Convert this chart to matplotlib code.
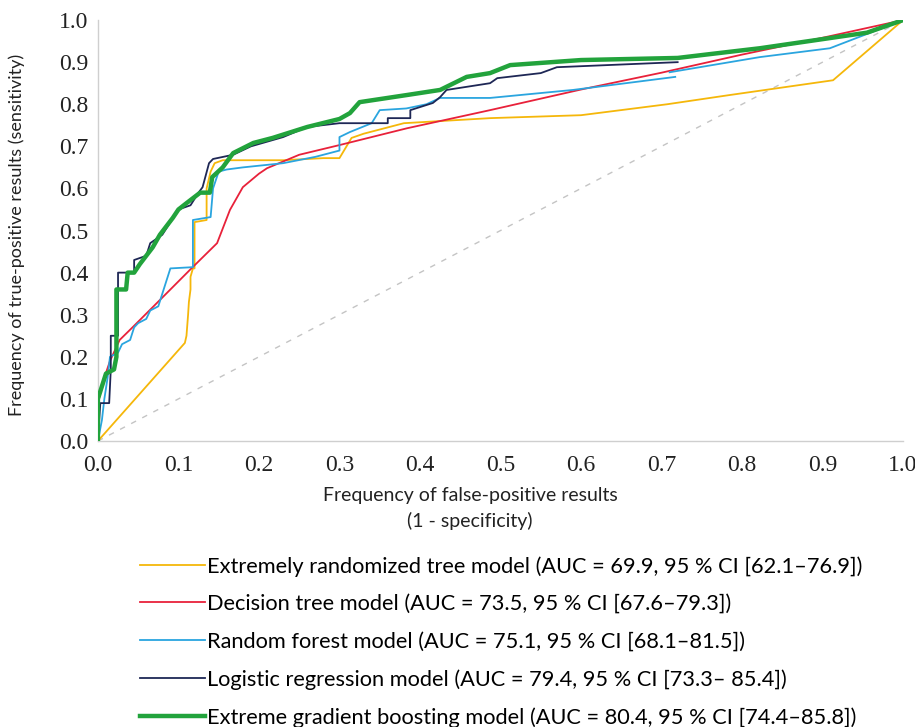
import numpy as np
import matplotlib
matplotlib.use('Agg')
import matplotlib.pyplot as plt

# ROC points (fpr, tpr)
et_fpr = [0, 0.108, 0.11, 0.112, 0.113, 0.115, 0.115, 0.118, 0.12, 0.12, 0.135, 0.135, 0.14, 0.145,
          0.155, 0.23, 0.28, 0.30, 0.315, 0.33, 0.36, 0.38, 0.487, 0.60, 0.707, 0.785, 0.913, 1.0]
et_tpr = [0, 0.233, 0.25, 0.30, 0.33, 0.36, 0.39, 0.41, 0.41, 0.52, 0.525, 0.60, 0.64, 0.66,
          0.667, 0.667, 0.672, 0.672, 0.72, 0.73, 0.745, 0.755, 0.767, 0.774, 0.80, 0.822, 0.857, 1.0]

dt_fpr = [0, 0, 0.007, 0.015, 0.027, 0.043, 0.077, 0.114, 0.148, 0.164, 0.18, 0.20, 0.21, 0.25,
          0.30, 0.384, 0.487, 0.60, 0.70, 0.80, 0.90, 1.0]
dt_tpr = [0, 0.09, 0.145, 0.19, 0.24, 0.27, 0.335, 0.406, 0.47, 0.549, 0.603, 0.635, 0.648, 0.68,
          0.703, 0.743, 0.786, 0.835, 0.875, 0.918, 0.958, 1.0]

# random forest line has a break where the published figure was stitched
rf_fpr = [0, 0.005, 0.008, 0.012, 0.015, 0.025, 0.03, 0.04, 0.045, 0.05, 0.06, 0.065, 0.075, 0.08,
          0.085, 0.09, 0.118, 0.118, 0.14, 0.143, 0.15, 0.16, 0.18, 0.23, 0.27, 0.30, 0.30, 0.313,
          0.34, 0.35, 0.383, 0.408, 0.425, 0.487, 0.59, 0.717, np.nan,
          0.71, 0.822, 0.909, 1.0]
rf_tpr = [0, 0.05, 0.10, 0.15, 0.20, 0.21, 0.23, 0.24, 0.27, 0.28, 0.29, 0.31, 0.32, 0.35,
          0.38, 0.41, 0.413, 0.525, 0.532, 0.60, 0.64, 0.645, 0.65, 0.66, 0.675, 0.69, 0.722, 0.734,
          0.755, 0.786, 0.79, 0.80, 0.815, 0.815, 0.834, 0.865, np.nan,
          0.876, 0.912, 0.933, 1.0]

lr_fpr = [0, 0.003, 0.014, 0.016, 0.016, 0.025, 0.025, 0.045, 0.045, 0.06, 0.065, 0.08, 0.09, 0.10,
          0.115, 0.125, 0.13, 0.138, 0.143, 0.168, 0.19, 0.23, 0.26, 0.30, 0.36, 0.36, 0.388, 0.388,
          0.416, 0.425, 0.433, 0.487, 0.496, 0.55, 0.57, 0.72]
lr_tpr = [0, 0.09, 0.09, 0.17, 0.25, 0.25, 0.40, 0.40, 0.43, 0.44, 0.47, 0.49, 0.52, 0.55,
          0.56, 0.59, 0.603, 0.66, 0.67, 0.68, 0.70, 0.722, 0.746, 0.755, 0.755, 0.767, 0.767, 0.786,
          0.803, 0.817, 0.834, 0.85, 0.862, 0.874, 0.888, 0.90]

xgb_fpr = [0, 0, 0.005, 0.01, 0.02, 0.023, 0.023, 0.035, 0.037, 0.045, 0.052, 0.06, 0.068, 0.077,
           0.085, 0.093, 0.10, 0.11, 0.127, 0.139, 0.142, 0.155, 0.168, 0.193, 0.217, 0.26, 0.30,
           0.313, 0.325, 0.384, 0.425, 0.458, 0.487, 0.512, 0.60, 0.72, 0.764, 0.822, 0.955, 1.0]
xgb_tpr = [0, 0.10, 0.13, 0.16, 0.17, 0.20, 0.36, 0.36, 0.40, 0.40, 0.42, 0.44, 0.46, 0.49,
           0.51, 0.53, 0.55, 0.565, 0.59, 0.59, 0.627, 0.65, 0.684, 0.708, 0.72, 0.746, 0.765,
           0.779, 0.805, 0.822, 0.834, 0.865, 0.874, 0.893, 0.905, 0.91, 0.92, 0.933, 0.97, 1.0]

labels = [
    'Extremely randomized tree model (AUC = 69.9, 95 % CI [62.1\u201376.9])',
    'Decision tree model (AUC = 73.5, 95 % CI [67.6\u201379.3])',
    'Random forest model (AUC = 75.1, 95 % CI [68.1\u201381.5])',
    'Logistic regression model (AUC = 79.4, 95 % CI [73.3\u2013 85.4])',
    'Extreme gradient boosting model (AUC = 80.4, 95 % CI [74.4\u201385.8])',
]
ticks = [0.0, 0.1, 0.2, 0.3, 0.4, 0.5, 0.6, 0.7, 0.8, 0.9, 1.0]

fig = plt.figure(figsize=(9.15, 7.27), dpi=100)
ax = fig.add_axes([0.107, 0.3934, 0.880, 0.579])

ax.plot([0, 1], [0, 1], color='#c4c4c4', lw=1, dashes=(4, 5), zorder=1)
l1, = ax.plot(et_fpr, et_tpr, color='#f5b70a', lw=1.3, zorder=2)
l2, = ax.plot(dt_fpr, dt_tpr, color='#e8213a', lw=1.3, zorder=3)
l3, = ax.plot(rf_fpr, rf_tpr, color='#2aa5df', lw=1.3, zorder=4)
l4, = ax.plot(lr_fpr, lr_tpr, color='#1e2755', lw=1.3, zorder=5)
l5, = ax.plot(xgb_fpr, xgb_tpr, color='#22a33c', lw=3.2, zorder=6)

ax.set_xlim(0, 1)
ax.set_ylim(0, 1)
ax.set_xticks(ticks)
ax.set_yticks(ticks)
ax.set_xticklabels([f'{t:.1f}' for t in ticks], family='Liberation Serif', fontsize=17)
ax.set_yticklabels([f'{t:.1f}' for t in ticks], family='Liberation Serif', fontsize=17)
ax.tick_params(length=0, colors='#222222')
ax.tick_params(axis='x', pad=10)
ax.tick_params(axis='y', pad=7)
for s in ['top', 'right']:
    ax.spines[s].set_visible(False)
for s in ['left', 'bottom']:
    ax.spines[s].set_color('#cfcfcf')
    ax.spines[s].set_linewidth(1)

ax.set_xlabel('Frequency of false-positive results\n(1 - specificity)',
              family='Lato', fontsize=14, linespacing=1.5, color='#222222')
ax.xaxis.set_label_coords(0.462, -0.11, transform=ax.transAxes)
ax.xaxis.label.set_verticalalignment('top')
ax.set_ylabel('Frequency of true-positive results (sensitivity)',
              family='Lato', fontsize=13, color='#222222')
ax.yaxis.set_label_coords(-0.09, 0.49)

fig.legend([l1, l2, l3, l4, l5], labels, loc='upper left',
           bbox_to_anchor=(0.153, 1 - 556 / 727), frameon=False,
           prop={'family': 'Lato', 'size': 15.7}, handlelength=3.0,
           handletextpad=0.05, labelspacing=0.8, borderpad=0, borderaxespad=0)

fig.savefig('out.png', dpi=100, facecolor='white')
